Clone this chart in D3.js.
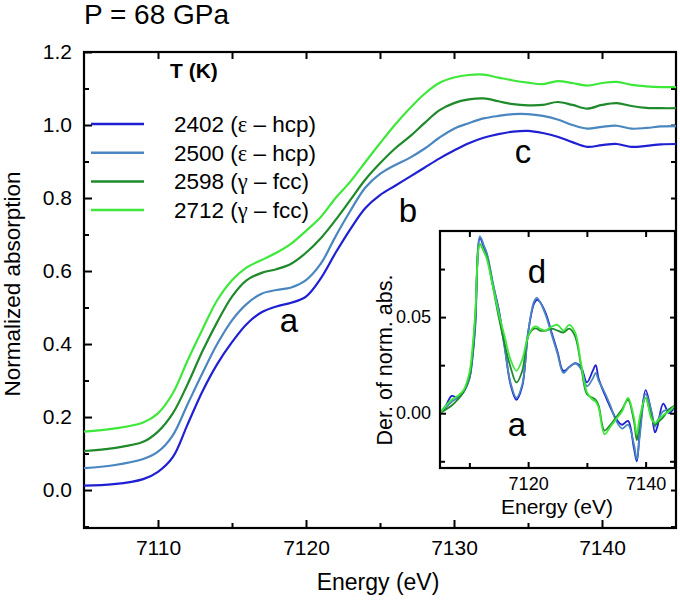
<!DOCTYPE html>
<html>
<head>
<meta charset="utf-8">
<script src="https://cdn.jsdelivr.net/npm/d3@7"></script>
<style>
  body { margin: 0; background: #fff; }
  text { font-family: "Liberation Sans", Arial, sans-serif; fill: #000; }
</style>
</head>
<body>
<div id="chart"></div>
<script>
const WIDTH = 680;
const HEIGHT = 601;

// main panel: normalized absorption
const energy = [7105, 7107, 7109, 7110, 7111, 7112, 7113, 7114, 7115, 7116, 7117, 7118, 7119, 7120,
  7121, 7122, 7123, 7124, 7125, 7126, 7127, 7128, 7129, 7130, 7131, 7132, 7133, 7134, 7135, 7136,
  7137, 7138, 7139, 7140, 7141, 7142, 7143, 7144, 7145];
const abs2402 = [0.012, 0.016, 0.030, 0.05, 0.09, 0.18, 0.27, 0.345, 0.405, 0.455, 0.487, 0.503, 0.513, 0.53,
  0.58, 0.65, 0.715, 0.772, 0.808, 0.833, 0.858, 0.883, 0.908, 0.93, 0.95, 0.965, 0.975, 0.982, 0.984, 0.978,
  0.968, 0.953, 0.94, 0.945, 0.948, 0.94, 0.943, 0.947, 0.948];
const abs2500 = [0.060, 0.068, 0.085, 0.105, 0.15, 0.235, 0.32, 0.40, 0.465, 0.51, 0.538, 0.548, 0.555, 0.575,
  0.62, 0.695, 0.765, 0.828, 0.866, 0.89, 0.91, 0.935, 0.965, 0.99, 1.005, 1.018, 1.025, 1.03, 1.03, 1.025,
  1.015, 1.00, 0.99, 0.995, 0.998, 0.99, 0.992, 0.996, 0.997];
const abs2598 = [0.107, 0.115, 0.132, 0.16, 0.21, 0.29, 0.38, 0.46, 0.53, 0.575, 0.595, 0.605, 0.62, 0.65,
  0.69, 0.74, 0.795, 0.85, 0.895, 0.935, 0.968, 1.005, 1.04, 1.06, 1.07, 1.073, 1.065, 1.057, 1.054, 1.055,
  1.063, 1.055, 1.045, 1.055, 1.06, 1.052, 1.047, 1.046, 1.046];
const abs2712 = [0.160, 0.168, 0.185, 0.21, 0.265, 0.355, 0.44, 0.52, 0.575, 0.61, 0.63, 0.65, 0.675, 0.71,
  0.748, 0.80, 0.845, 0.898, 0.95, 1.00, 1.045, 1.085, 1.115, 1.13, 1.137, 1.138, 1.13, 1.122, 1.116, 1.112,
  1.12, 1.115, 1.108, 1.115, 1.118, 1.11, 1.106, 1.104, 1.104];

// inset: derivative of normalized absorption
const derEnergy = [7105, 7106, 7107, 7108, 7109, 7110, 7110.5, 7111, 7111.8, 7112.5, 7113, 7114, 7115, 7116,
  7117, 7118, 7119, 7120, 7121, 7121.5, 7122, 7123, 7124, 7125, 7126, 7127, 7128, 7129, 7130, 7131, 7131.5,
  7132, 7133, 7134, 7135, 7136, 7137, 7138, 7138.5, 7139, 7140, 7141, 7141.6, 7142, 7143, 7144, 7145];
const der2402 = [0.000, 0.004, 0.009, 0.008, 0.011, 0.018, 0.028, 0.045, 0.091, 0.086, 0.082, 0.067, 0.054, 0.035,
  0.015, 0.007, 0.014, 0.042, 0.057, 0.059, 0.058, 0.052, 0.042, 0.032, 0.022, 0.024, 0.026, 0.024, 0.016, 0.022, 0.025,
  0.018, 0.010, 0.003, -0.003, -0.006, -0.004, -0.018, -0.025, -0.010, 0.012, 0.000, -0.010, -0.007, 0.005, 0.000, 0.004];
const der2500 = [0.000, 0.003, 0.006, 0.008, 0.011, 0.018, 0.029, 0.047, 0.092, 0.087, 0.083, 0.068, 0.053, 0.034,
  0.016, 0.008, 0.015, 0.042, 0.058, 0.060, 0.058, 0.051, 0.041, 0.031, 0.021, 0.024, 0.026, 0.023, 0.014, 0.018, 0.021,
  0.017, 0.011, 0.004, -0.004, -0.008, -0.006, -0.016, -0.024, -0.012, 0.010, 0.001, -0.007, -0.004, 0.001, 0.002, 0.004];
const der2598 = [0.000, 0.002, 0.004, 0.007, 0.011, 0.019, 0.030, 0.050, 0.088, 0.084, 0.081, 0.066, 0.050, 0.036,
  0.024, 0.016, 0.022, 0.040, 0.044, 0.044, 0.043, 0.043, 0.044, 0.043, 0.042, 0.044, 0.040, 0.025, 0.010, 0.008, 0.007,
  0.004, -0.009, -0.006, -0.002, 0.002, 0.007, -0.004, -0.014, -0.004, 0.008, -0.002, -0.006, -0.005, -0.002, 0.002, 0.004];
const der2712 = [0.000, 0.004, 0.007, 0.009, 0.012, 0.021, 0.033, 0.052, 0.088, 0.084, 0.080, 0.066, 0.052, 0.040,
  0.028, 0.022, 0.028, 0.040, 0.045, 0.045, 0.044, 0.043, 0.045, 0.046, 0.043, 0.046, 0.042, 0.026, 0.011, 0.007, 0.006,
  0.003, -0.011, -0.007, -0.003, 0.001, 0.008, -0.002, -0.011, -0.002, 0.008, -0.003, -0.005, -0.004, -0.001, 0.001, 0.004];

const temps = ["2402", "2500", "2598", "2712"];
const phases = [["ε", "hcp"], ["ε", "hcp"], ["γ", "fcc"], ["γ", "fcc"]];
const colors = ["#1f1fd4", "#4a86bf", "#1e8a2a", "#3ee83a"];

const mainTicksX = [7110, 7120, 7130, 7140];
const mainTicksY = [0.0, 0.2, 0.4, 0.6, 0.8, 1.0, 1.2];
const insetTicksX = [7120, 7140];
const insetTicksY = [0.00, 0.05];

const absSeries = [abs2402, abs2500, abs2598, abs2712];
const derSeries = [der2402, der2500, der2598, der2712];

const svg = d3.select("#chart").append("svg")
    .attr("width", WIDTH)
    .attr("height", HEIGHT);

// ---------- main panel ----------
const x = d3.scaleLinear().domain([7105, 7145]).range([84, 676]);
const y = d3.scaleLinear().domain([-0.104, 1.2]).range([528, 52]);

function frameAxes(g, xs, ys, opt) {
    const [x0, x1] = xs.range();
    const [y0, y1] = ys.range();
    // bottom + top
    g.append("g").attr("transform", `translate(0,${y0})`)
        .call(d3.axisBottom(xs).tickValues(opt.xMajor).tickSize(-opt.major).tickPadding(opt.pad).tickFormat(opt.xFmt))
        .call(s => s.select(".domain").remove());
    g.append("g").attr("transform", `translate(0,${y0})`)
        .call(d3.axisBottom(xs).tickValues(opt.xMinor).tickSize(-opt.minor).tickFormat(""))
        .call(s => s.select(".domain").remove());
    g.append("g").attr("transform", `translate(0,${y1})`)
        .call(d3.axisTop(xs).tickValues(opt.xAll).tickSize(-opt.topTick).tickFormat(""))
        .call(s => s.select(".domain").remove());
    // left + right
    g.append("g").attr("transform", `translate(${x0},0)`)
        .call(d3.axisLeft(ys).tickValues(opt.yMajor).tickSize(-opt.major).tickPadding(opt.pad).tickFormat(opt.yFmt))
        .call(s => s.select(".domain").remove());
    g.append("g").attr("transform", `translate(${x0},0)`)
        .call(d3.axisLeft(ys).tickValues(opt.yMinor).tickSize(-opt.minor).tickFormat(""))
        .call(s => s.select(".domain").remove());
    g.append("g").attr("transform", `translate(${x1},0)`)
        .call(d3.axisRight(ys).tickValues(opt.yAll).tickSize(-opt.minor).tickFormat(""))
        .call(s => s.select(".domain").remove());
    g.selectAll(".tick line").attr("stroke", "#000").attr("stroke-width", 2);
    g.selectAll(".tick text").style("font-size", opt.font + "px")
        .style("font-family", '"Liberation Sans", Arial, sans-serif');
    g.append("rect")
        .attr("x", x0).attr("y", y1)
        .attr("width", x1 - x0).attr("height", y0 - y1)
        .attr("fill", "none").attr("stroke", "#000").attr("stroke-width", 2.2);
}

const main = svg.append("g");
frameAxes(main, x, y, {
    xMajor: mainTicksX, xMinor: [7115, 7125, 7135], xAll: [7110, 7115, 7120, 7125, 7130, 7135, 7140],
    yMajor: mainTicksY, yMinor: [-0.1, 0.1, 0.3, 0.5, 0.7, 0.9, 1.1],
    yAll: [-0.1, 0, 0.1, 0.2, 0.3, 0.4, 0.5, 0.6, 0.7, 0.8, 0.9, 1.0, 1.1],
    major: 8, minor: 5, topTick: 7, pad: 12, font: 21,
    xFmt: d3.format("d"), yFmt: d3.format(".1f")
});

const line = d3.line()
    .x((d, i) => x(energy[i]))
    .y(d => y(d))
    .curve(d3.curveCatmullRom.alpha(0.5));

main.selectAll(".absline")
    .data(absSeries)
    .enter()
    .append("path")
    .attr("class", "absline")
    .attr("d", line)
    .attr("fill", "none")
    .attr("stroke", (d, i) => colors[i])
    .attr("stroke-width", 2.2);

// titles
svg.append("text").attr("x", 84).attr("y", 24).style("font-size", "28px").text("P = 68 GPa");
svg.append("text").attr("x", 378).attr("y", 590).attr("text-anchor", "middle")
    .style("font-size", "23px").text("Energy (eV)");
svg.append("text").attr("transform", "translate(20,284) rotate(-90)").attr("text-anchor", "middle")
    .style("font-size", "22.5px").text("Normalized absorption");

// legend
svg.append("text").attr("x", 170).attr("y", 78).style("font-size", "21px").style("font-weight", "bold").text("T (K)");
const legend = svg.append("g");
temps.forEach((t, i) => {
    const ly = 124 + i * 28.7;
    legend.append("line").attr("x1", 91).attr("x2", 144).attr("y1", ly).attr("y2", ly)
        .attr("stroke", colors[i]).attr("stroke-width", 2.5);
    const tx = legend.append("text").attr("x", 174).attr("y", ly + 8).style("font-size", "22.5px");
    tx.append("tspan").text(t + " (");
    tx.append("tspan").style("font-family", '"Liberation Serif", serif').text(phases[i][0]);
    tx.append("tspan").text(" \u2013 " + phases[i][1] + ")");
});

// feature labels
const labelStyle = s => s.style("font-size", "33px").attr("text-anchor", "middle");
svg.append("text").attr("x", 289).attr("y", 332).call(labelStyle).text("a");
svg.append("text").attr("x", 408).attr("y", 222).call(labelStyle).text("b");
svg.append("text").attr("x", 523).attr("y", 163).call(labelStyle).text("c");

// ---------- inset ----------
const xi = d3.scaleLinear().domain([7105, 7145]).range([440, 675]);
const yi = d3.scaleLinear().domain([-0.0285, 0.0948]).range([468, 231]);

const inset = svg.append("g");
inset.append("rect").attr("x", 440).attr("y", 231).attr("width", 235).attr("height", 237).attr("fill", "#fff");

const dline = d3.line()
    .x((d, i) => xi(derEnergy[i]))
    .y(d => yi(d))
    .curve(d3.curveCatmullRom.alpha(0.5));

inset.selectAll(".derline")
    .data(derSeries)
    .enter()
    .append("path")
    .attr("class", "derline")
    .attr("d", dline)
    .attr("fill", "none")
    .attr("stroke", (d, i) => colors[i])
    .attr("stroke-width", 1.8);

frameAxes(inset, xi, yi, {
    xMajor: insetTicksX, xMinor: [7110, 7130], xAll: [7110, 7120, 7130, 7140],
    yMajor: insetTicksY, yMinor: [-0.025, 0.025, 0.075],
    yAll: [-0.025, 0, 0.025, 0.05, 0.075],
    major: 6, minor: 5, topTick: 6, pad: 9, font: 18,
    xFmt: d3.format("d"), yFmt: d3.format(".2f")
});

svg.append("text").attr("x", 557).attr("y", 514).attr("text-anchor", "middle")
    .style("font-size", "21px").text("Energy (eV)");
svg.append("text").attr("transform", "translate(392,360) rotate(-90)").attr("text-anchor", "middle")
    .style("font-size", "21.5px").text("Der. of norm. abs.");
svg.append("text").attr("x", 537).attr("y", 283).call(labelStyle).text("d");
svg.append("text").attr("x", 517).attr("y", 436).call(labelStyle).text("a");
</script>
</body>
</html>
